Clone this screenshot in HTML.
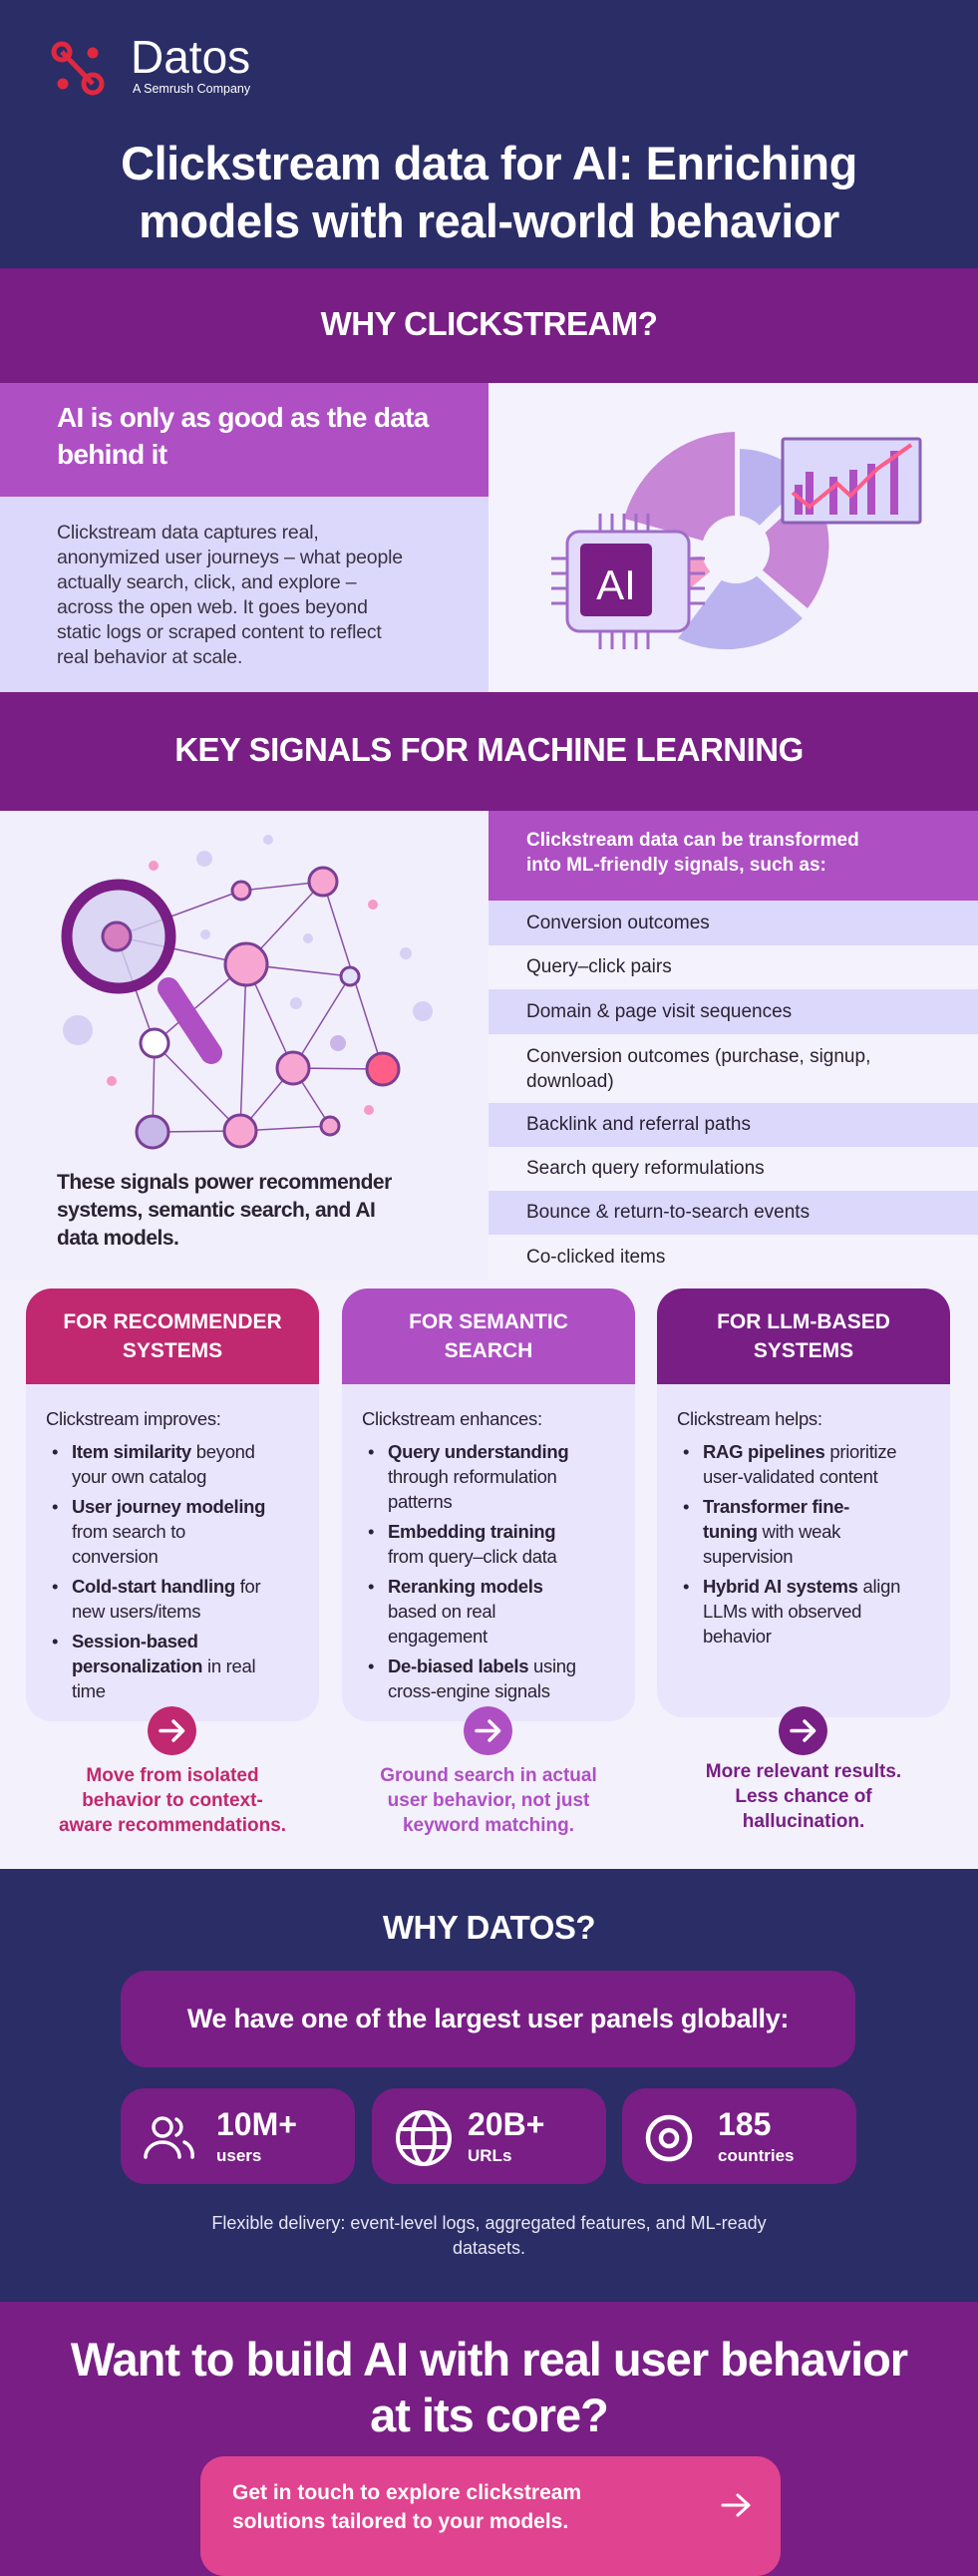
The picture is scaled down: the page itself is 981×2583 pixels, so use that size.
<!DOCTYPE html>
<html><head><meta charset="utf-8">
<style>
*{margin:0;padding:0;box-sizing:border-box}
body{width:981px;height:2560px;font-family:"Liberation Sans",sans-serif;background:#781e85;position:relative;overflow:hidden}
.a{position:absolute}
.c{text-align:center}
.w{color:#fff}
.row{position:absolute;left:490px;width:491px;padding-left:38px;font-size:19px;color:#2a2235;display:flex;align-items:center}
.card{position:absolute;top:1292px;width:294px;height:434px;border-radius:26px;background:#e9e5fd;overflow:hidden}
.card .h{height:96px;display:flex;align-items:center;justify-content:center;text-align:center;color:#fff;font-weight:bold;font-size:21px;line-height:29px;padding:0 20px}
.card .b{padding:22px 10px 0 20px;font-size:18.5px;line-height:25px;color:#2a2235;letter-spacing:-0.3px;white-space:nowrap}
.card ul{list-style:none;margin-top:8px}
.card li{position:relative;padding-left:26px;margin-bottom:5px}
.card li:before{content:"•";position:absolute;left:6px}
.arr{position:absolute;top:1711px;width:49px;height:49px;border-radius:50%}
.cap{position:absolute;top:1768px;width:320px;font-weight:bold;font-size:19px;line-height:25px;text-align:center;white-space:nowrap}
.stat{position:absolute;top:2094px;width:235px;height:96px;border-radius:24px;background:#781e85;color:#fff}
.stat .n{position:absolute;left:96px;top:18px;font-size:32px;font-weight:bold}
.stat .l{position:absolute;left:96px;top:58px;font-size:17px;font-weight:bold}
</style></head><body>
<!-- header -->
<div class="a" style="left:0;top:0;width:981px;height:269px;background:#2a2d66"></div>
<svg class="a" style="left:48px;top:38px" width="64" height="58" viewBox="0 0 64 58">
<line x1="14" y1="14" x2="45" y2="46" stroke="#e0283f" stroke-width="5"/>
<circle cx="14" cy="14" r="8" fill="none" stroke="#e0283f" stroke-width="5"/>
<circle cx="45" cy="46" r="9" fill="none" stroke="#e0283f" stroke-width="5"/>
<circle cx="45" cy="15" r="5.5" fill="#e0283f"/>
<circle cx="15" cy="46" r="5.5" fill="#e0283f"/>
</svg>
<div class="a w" style="left:131px;top:30px;font-size:46px">Datos</div>
<div class="a w" style="left:133px;top:82px;font-size:12.5px">A Semrush Company</div>
<div class="a w c" style="left:0;top:135px;width:981px;font-size:47px;font-weight:bold;line-height:58px;letter-spacing:-0.5px">Clickstream data for AI: Enriching<br>models with real-world behavior</div>
<!-- why clickstream -->
<div class="a" style="left:0;top:269px;width:981px;height:115px;background:#781e85"></div>
<div class="a w c" style="left:0;top:306px;width:981px;font-size:33px;font-weight:bold;letter-spacing:-0.5px">WHY CLICKSTREAM?</div>
<div class="a" style="left:0;top:384px;width:490px;height:114px;background:#ae4fc4"></div>
<div class="a w" style="left:57px;top:400px;font-size:28px;font-weight:bold;line-height:37px;letter-spacing:-0.7px">AI is only as good as the data<br>behind it</div>
<div class="a" style="left:0;top:498px;width:490px;height:196px;background:#dcd8fb"></div>
<div class="a" style="left:57px;top:522px;font-size:19.5px;line-height:25px;color:#3a3245;white-space:nowrap;letter-spacing:-0.2px">Clickstream data captures real,<br>anonymized user journeys – what people<br>actually search, click, and explore –<br>across the open web. It goes beyond<br>static logs or scraped content to reflect<br>real behavior at scale.</div>
<div class="a" style="left:490px;top:384px;width:491px;height:310px;background:#f4f2fc"></div>
<svg class="a" style="left:490px;top:384px" width="491" height="310" viewBox="490 384 491 310">
<path d="M737 551 L737 433 A118 118 0 0 0 626 520 Z" fill="#c786d6"/>
<path d="M742 546 L742 450 A100 100 0 0 1 810 480 Z" fill="#bbb3f0"/>
<path d="M745 555 L815 490 A105 105 0 0 1 810 610 Z" fill="#c786d6"/>
<path d="M740 560 L805 620 A110 110 0 0 1 680 640 Z" fill="#bbb3f0"/>
<path d="M733 556 L670 560 L680 600 Z" fill="#f49cc8"/>
<circle cx="738" cy="551" r="34" fill="#f4f2fc"/>
<rect x="785" y="440" width="138" height="84" fill="#dcd8fb" stroke="#8a60b5" stroke-width="3" rx="2"/>
<g fill="#ae4fc4"><rect x="797" y="486" width="8" height="30"/><rect x="808" y="473" width="8" height="43"/><rect x="832" y="478" width="8" height="38"/><rect x="852" y="471" width="8" height="45"/><rect x="870" y="465" width="8" height="51"/><rect x="893" y="452" width="8" height="64"/></g>
<polyline points="795,494 812,508 840,485 853,497 880,470 914,446" fill="none" stroke="#ff5c8a" stroke-width="4"/>
<rect x="569" y="533" width="122" height="100" rx="12" stroke="#a06cc8" stroke-width="3" fill="#e3dbfb"/>
<g stroke="#a06cc8" stroke-width="3" fill="none">
<path d="M602 533 v-18 M614 533 v-18 M626 533 v-18 M638 533 v-18 M650 533 v-18 M602 633 v18 M614 633 v18 M626 633 v18 M638 633 v18 M650 633 v18 M569 560 h-16 M569 575 h-16 M569 590 h-16 M569 605 h-16 M691 560 h16 M691 575 h16 M691 590 h16 M691 605 h16"/>
</g>
<rect x="582" y="545" width="72" height="73" rx="5" fill="#781e85"/>
<text x="618" y="601" text-anchor="middle" font-size="42" fill="#fff" font-family="Liberation Sans">AI</text>
</svg>
<!-- key signals -->
<div class="a" style="left:0;top:694px;width:981px;height:119px;background:#781e85"></div>
<div class="a w c" style="left:0;top:733px;width:981px;font-size:33px;font-weight:bold;letter-spacing:-0.5px">KEY SIGNALS FOR MACHINE LEARNING</div>
<div class="a" style="left:0;top:813px;width:490px;height:470px;background:#f1effb"></div>
<svg class="a" style="left:0;top:813px" width="490" height="360" viewBox="0 813 490 360">
<g fill="#d6d0f5"><circle cx="269" cy="842" r="5"/><circle cx="205" cy="861" r="8"/><circle cx="206" cy="937" r="5"/><circle cx="309" cy="941" r="5"/><circle cx="407" cy="956" r="6"/><circle cx="424" cy="1014" r="10"/><circle cx="78" cy="1033" r="15"/><circle cx="297" cy="1006" r="6"/><circle cx="339" cy="1046" r="8" fill="#c9b5ea"/></g>
<g fill="#f59ac8"><circle cx="154" cy="868" r="5"/><circle cx="374" cy="907" r="5"/><circle cx="112" cy="1084" r="5"/><circle cx="370" cy="1113" r="5"/></g>
<g stroke="#8a4fa5" stroke-width="1.5"><line x1="117" y1="939" x2="242" y2="893"/><line x1="117" y1="939" x2="247" y2="967"/><line x1="117" y1="939" x2="155" y2="1046"/><line x1="242" y1="893" x2="324" y2="884"/><line x1="324" y1="884" x2="247" y2="967"/><line x1="324" y1="884" x2="384" y2="1072"/><line x1="247" y1="967" x2="351" y2="979"/><line x1="247" y1="967" x2="241" y2="1134"/><line x1="247" y1="967" x2="294" y2="1071"/><line x1="351" y1="979" x2="294" y2="1071"/><line x1="294" y1="1071" x2="384" y2="1072"/><line x1="294" y1="1071" x2="241" y2="1134"/><line x1="294" y1="1071" x2="331" y2="1129"/><line x1="155" y1="1046" x2="153" y2="1135"/><line x1="155" y1="1046" x2="241" y2="1134"/><line x1="153" y1="1135" x2="241" y2="1134"/><line x1="241" y1="1134" x2="331" y2="1129"/><line x1="155" y1="1046" x2="247" y2="967"/></g>
<line x1="169" y1="991" x2="212" y2="1056" stroke="#ae4fc4" stroke-width="22" stroke-linecap="round"/>
<circle cx="119" cy="939" r="52" fill="#d4d0f2" fill-opacity="0.8" stroke="#781e85" stroke-width="11"/>
<g stroke="#7a3f95" stroke-width="3">
<circle cx="117" cy="939" r="14" fill="#d67ec0"/>
<circle cx="242" cy="893" r="9" fill="#f7a6d2"/>
<circle cx="324" cy="884" r="14" fill="#f7a6d2"/>
<circle cx="247" cy="967" r="21" fill="#f7a6d2"/>
<circle cx="351" cy="979" r="9" fill="#e3e0fb"/>
<circle cx="155" cy="1046" r="14" fill="#fff"/>
<circle cx="294" cy="1071" r="16" fill="#f7a6d2"/>
<circle cx="384" cy="1072" r="16" fill="#ff5f86"/>
<circle cx="153" cy="1135" r="16" fill="#c8b8ea"/>
<circle cx="241" cy="1134" r="16" fill="#f7a6d2"/>
<circle cx="331" cy="1129" r="9" fill="#f7a6d2"/>
</g>
</svg>
<div class="a" style="left:57px;top:1172px;font-size:21px;font-weight:bold;line-height:28px;color:#2a2235;white-space:nowrap;letter-spacing:-0.5px">These signals power recommender<br>systems, semantic search, and AI<br>data models.</div>
<div class="a" style="left:490px;top:813px;width:491px;height:90px;background:#ae4fc4"></div>
<div class="a w" style="left:528px;top:830px;font-size:19px;font-weight:bold;line-height:25px">Clickstream data can be transformed<br>into ML-friendly signals, such as:</div>
<div class="row" style="top:903px;height:45px;background:#dcd8fb">Conversion outcomes</div>
<div class="row" style="top:948px;height:44px;background:#f4f2fc">Query–click pairs</div>
<div class="row" style="top:992px;height:45px;background:#dcd8fb">Domain &amp; page visit sequences</div>
<div class="row" style="top:1037px;height:69px;background:#f4f2fc;line-height:25px">Conversion outcomes (purchase, signup,<br>download)</div>
<div class="row" style="top:1106px;height:44px;background:#dcd8fb">Backlink and referral paths</div>
<div class="row" style="top:1150px;height:44px;background:#f4f2fc">Search query reformulations</div>
<div class="row" style="top:1194px;height:44px;background:#dcd8fb">Bounce &amp; return-to-search events</div>
<div class="row" style="top:1238px;height:45px;background:#f4f2fc">Co-clicked items</div>
<!-- cards -->
<div class="a" style="left:0;top:1283px;width:981px;height:591px;background:#f3f1fb"></div>
<div class="card" style="left:26px"><div class="h" style="background:#c0286f">FOR RECOMMENDER<br>SYSTEMS</div>
<div class="b">Clickstream improves:<ul><li><b>Item similarity</b> beyond<br>your own catalog</li><li><b>User journey modeling</b><br>from search to<br>conversion</li><li><b>Cold-start handling</b> for<br>new users/items</li><li><b>Session-based<br>personalization</b> in real<br>time</li></ul></div></div>
<div class="card" style="left:343px"><div class="h" style="background:#ae4fc4">FOR SEMANTIC<br>SEARCH</div>
<div class="b">Clickstream enhances:<ul><li><b>Query understanding</b><br>through reformulation<br>patterns</li><li><b>Embedding training</b><br>from query–click data</li><li><b>Reranking models</b><br>based on real<br>engagement</li><li><b>De-biased labels</b> using<br>cross-engine signals</li></ul></div></div>
<div class="card" style="left:659px;height:430px"><div class="h" style="background:#781e85">FOR LLM-BASED<br>SYSTEMS</div>
<div class="b">Clickstream helps:<ul><li><b>RAG pipelines</b> prioritize<br>user-validated content</li><li><b>Transformer fine-<br>tuning</b> with weak<br>supervision</li><li><b>Hybrid AI systems</b> align<br>LLMs with observed<br>behavior</li></ul></div></div>
<svg class="arr" style="left:148px" viewBox="0 0 49 49"><circle cx="24.5" cy="24.5" r="24.5" fill="#c0286f"/><path d="M13 24.5h22M26 15l9.5 9.5L26 34" stroke="#fff" stroke-width="3.5" fill="none" stroke-linecap="round" stroke-linejoin="round"/></svg>
<svg class="arr" style="left:465px" viewBox="0 0 49 49"><circle cx="24.5" cy="24.5" r="24.5" fill="#ae4fc4"/><path d="M13 24.5h22M26 15l9.5 9.5L26 34" stroke="#fff" stroke-width="3.5" fill="none" stroke-linecap="round" stroke-linejoin="round"/></svg>
<svg class="arr" style="left:781px" viewBox="0 0 49 49"><circle cx="24.5" cy="24.5" r="24.5" fill="#781e85"/><path d="M13 24.5h22M26 15l9.5 9.5L26 34" stroke="#fff" stroke-width="3.5" fill="none" stroke-linecap="round" stroke-linejoin="round"/></svg>
<div class="cap" style="left:13px;color:#c0286f">Move from isolated<br>behavior to context-<br>aware recommendations.</div>
<div class="cap" style="left:330px;color:#ae4fc4">Ground search in actual<br>user behavior, not just<br>keyword matching.</div>
<div class="cap" style="left:646px;top:1764px;color:#781e85">More relevant results.<br>Less chance of<br>hallucination.</div>
<!-- why datos -->
<div class="a" style="left:0;top:1874px;width:981px;height:434px;background:#2a2d66"></div>
<div class="a w c" style="left:0;top:1914px;width:981px;font-size:33px;font-weight:bold;letter-spacing:-0.5px">WHY DATOS?</div>
<div class="a w c" style="left:121px;top:1976px;width:737px;height:97px;border-radius:26px;background:#781e85;font-size:27px;line-height:97px;font-weight:bold;letter-spacing:-0.3px">We have one of the largest user panels globally:</div>
<div class="stat" style="left:121px"><svg class="a" style="left:22px;top:26px" width="56" height="46" viewBox="0 0 56 46" fill="none" stroke="#fff" stroke-width="3.5" stroke-linecap="round"><circle cx="20" cy="13" r="9"/><path d="M34 5a9 9 0 0 1 0 16"/><path d="M3 43a17 15 0 0 1 34 0"/><path d="M42 28a14 14 0 0 1 8 15"/></svg><div class="n">10M+</div><div class="l">users</div></div>
<div class="stat" style="left:373px"><svg class="a" style="left:22px;top:20px" width="60" height="60" viewBox="0 0 60 60" fill="none" stroke="#fff" stroke-width="4"><circle cx="30" cy="30" r="26"/><ellipse cx="30" cy="30" rx="11" ry="26"/><path d="M6 21h48M6 39h48"/></svg><div class="n">20B+</div><div class="l">URLs</div></div>
<div class="stat" style="left:624px"><svg class="a" style="left:22px;top:25px" width="50" height="50" viewBox="0 0 50 50" fill="none" stroke="#fff" stroke-width="4.5"><circle cx="25" cy="25" r="21"/><circle cx="25" cy="25" r="8"/></svg><div class="n">185</div><div class="l">countries</div></div>
<div class="a c" style="left:0;top:2217px;width:981px;font-size:18px;line-height:25px;color:#e8e6f5">Flexible delivery: event-level logs, aggregated features, and ML-ready<br>datasets.</div>
<!-- CTA -->
<div class="a" style="left:0;top:2308px;width:981px;height:252px;background:#781e85"></div>
<div class="a w c" style="left:0;top:2338px;width:981px;font-size:47px;font-weight:bold;line-height:56px;letter-spacing:-1px">Want to build AI with real user behavior<br>at its core?</div>
<div class="a" style="left:201px;top:2463px;width:582px;height:120px;border-radius:24px;background:#e0438f"></div>
<div class="a w" style="left:233px;top:2485px;font-size:21px;font-weight:bold;line-height:29px">Get in touch to explore clickstream<br>solutions tailored to your models.</div>
<svg class="a" style="left:722px;top:2498px" width="34" height="28" viewBox="0 0 34 28"><path d="M3 14h26M18 4l11 10L18 24" stroke="#fff" stroke-width="3" fill="none" stroke-linecap="round" stroke-linejoin="round"/></svg>
</body></html>
